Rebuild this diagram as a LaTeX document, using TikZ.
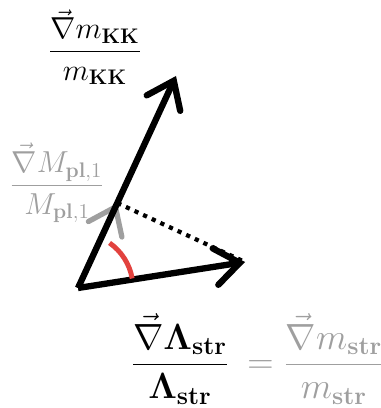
\documentclass[tikz,border=0pt]{standalone}
\usepackage{amsmath,amssymb}
\usetikzlibrary{positioning,arrows.meta,calc}
\definecolor{arcred}{RGB}{226,66,62}

\begin{document}
\begin{tikzpicture}[
  x=0.02cm, y=0.02cm,
  grad/.style={line width=3.6pt,-{Straight Barb[length=14pt,width=21pt,line cap=round]}},
  lbl/.style={font=\LARGE,inner sep=0pt}
]
\useasboundingbox (0,0) rectangle (381,408);
\coordinate (O) at (78,120);
\coordinate (kk) at (176,332);
\coordinate (str) at (245,146);
\coordinate (pl) at ($(O)!(str)!(kk)$);
\draw[line width=2.4pt,dash pattern=on 2.4pt off 3pt] (pl) -- (str);
\draw[grad,gray!75,line width=3pt] (O) -- (pl);
\draw[grad] (O) -- (kk);
\draw[grad] (O) -- (str);
\draw[arcred,line width=2.8pt] ([shift={(10:55)}]O) arc[start angle=10,end angle=55,radius=55];
\node[lbl] (mkk) at (95,361) {$\displaystyle\frac{\vec\nabla m_{\mathbf{KK}}}{m_{\mathbf{KK}}}$};
\node[lbl,text=gray!75] (mpl) at (57,225) {$\displaystyle\frac{\vec\nabla M_{\mathbf{pl},1}}{M_{\mathbf{pl},1}}$};
\node[lbl,font=\huge] (lam) at (180,49) {$\displaystyle\frac{\vec\nabla \mathbf{\Lambda}_{\mathbf{str}}}{\mathbf{\Lambda}_{\mathbf{str}}}$};
\node[lbl,font=\huge,text=gray!75,right=10pt of lam] (mstr) {$\displaystyle=\frac{\vec\nabla m_{\mathbf{str}}}{m_{\mathbf{str}}}$};
\end{tikzpicture}
\end{document}
